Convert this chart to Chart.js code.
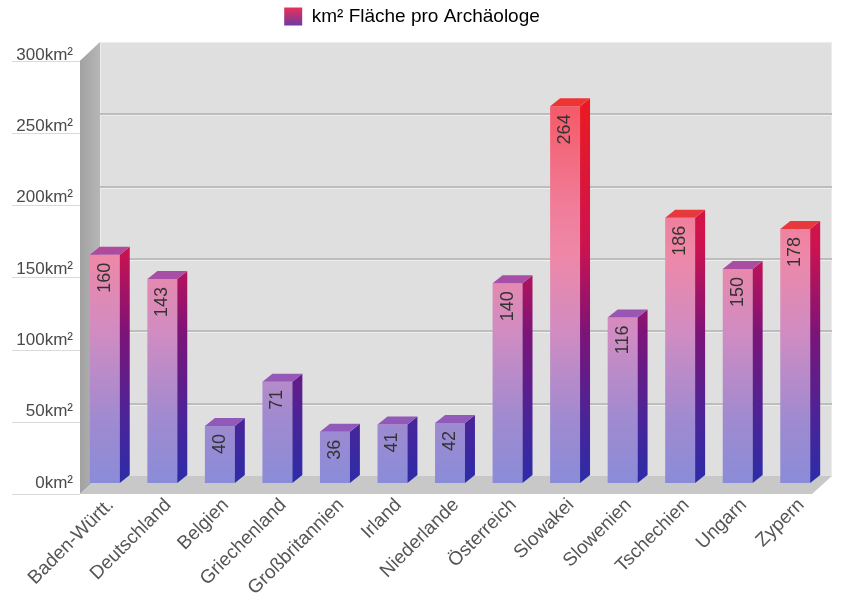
<!DOCTYPE html>
<html lang="de">
<head>
<meta charset="UTF-8">
<script src="https://cdn.jsdelivr.net/npm/chart.js"></script>
<style>
  html, body { margin: 0; padding: 0; background: #fff; }
</style>
<title>Fläche pro Archäologe</title>
</head>
<body>
<canvas id="chart" width="842" height="606"></canvas>
<script>
const laender = ['Baden-Württ.', 'Deutschland', 'Belgien', 'Griechenland', 'Großbritannien', 'Irland',
                 'Niederlande', 'Österreich', 'Slowakei', 'Slowenien', 'Tschechien', 'Ungarn', 'Zypern'];
const flaeche = [160, 143, 40, 71, 36, 41, 42, 140, 264, 116, 186, 150, 178];
const yTicks = [0, 50, 100, 150, 200, 250, 300];
const serienName = 'km² Fläche pro Archäologe';

Chart.defaults.font.family = 'Arial, "Liberation Sans", sans-serif';

// depth of the bars and of the walls
const BAR_DX = 10, BAR_DY = 8;
const WALL_DX = 20;

function backY(a, y) { return a.bottom - 7 - (a.bottom - y) * 1.014; }
function frontY(a, y) { return a.bottom + 11 - (a.bottom - y) * 1.012; }

function vGrad(ctx, a, stops) {
    const g = ctx.createLinearGradient(0, a.top, 0, a.bottom);
    stops.forEach(s => g.addColorStop(s[0], s[1]));
    return g;
}

function frontGradient(chart) {
    const a = chart.chartArea;
    if (!a) return '#b08ac8';
    return vGrad(chart.ctx, a, [
        [0, '#ff3b3b'], [0.12, '#f55a68'], [0.35, '#f07c98'], [0.47, '#ee88a8'],
        [0.65, '#d08cc2'], [0.85, '#a08ad0'], [1, '#8a8cd8']
    ]);
}

// the legend sits higher than the plot: leave a gap beneath it
const legendGap = {
    id: 'legendGap',
    afterInit(chart) {
        const legend = chart.legend;
        const fit = legend.fit;
        legend.fit = function () { fit.call(this); this.height += 19; };
    }
};

const box3d = {
    id: 'box3d',
    beforeDatasetsDraw(chart) {
        const ctx = chart.ctx, a = chart.chartArea, ys = chart.scales.y;
        const x0 = a.left + 4, x1 = x0 + WALL_DX, xr = a.right + 8, xf = xr - WALL_DX;
        const top = ys.getPixelForValue(yTicks[yTicks.length - 1]);
        const bTop = backY(a, top), bBot = backY(a, a.bottom);
        const fTop = frontY(a, top), fBot = frontY(a, a.bottom);
        ctx.save();

        // back wall
        ctx.fillStyle = '#dfdfdf';
        ctx.fillRect(x1, bTop, xr - x1, bBot - bTop);
        ctx.strokeStyle = '#ececec';
        ctx.lineWidth = 1;
        ctx.strokeRect(x1 + 0.5, bTop + 0.5, xr - x1 - 1, bBot - bTop);

        // left wall
        const sg = ctx.createLinearGradient(x0, 0, x1, 0);
        sg.addColorStop(0, '#a2a2a2');
        sg.addColorStop(1, '#b6b6b6');
        ctx.fillStyle = sg;
        ctx.beginPath();
        ctx.moveTo(x0, fTop); ctx.lineTo(x1, bTop); ctx.lineTo(x1, bBot); ctx.lineTo(x0, fBot);
        ctx.closePath(); ctx.fill();

        // floor
        ctx.fillStyle = '#c8c8c8';
        ctx.beginPath();
        ctx.moveTo(x0, fBot); ctx.lineTo(x1, bBot); ctx.lineTo(xr, bBot); ctx.lineTo(xf, fBot);
        ctx.closePath(); ctx.fill();

        // grid lines on the back wall, short ticks in front of the left wall
        yTicks.forEach(v => {
            const y = ys.getPixelForValue(v);
            if (v > 0 && v < yTicks[yTicks.length - 1]) {
                const by = Math.round(backY(a, y));
                ctx.fillStyle = '#bdbdbd';
                ctx.fillRect(x1, by - 1, xr - x1, 2);
                ctx.fillStyle = '#eeeeee';
                ctx.fillRect(x1, by + 1, xr - x1, 1);
            }
            const fy = Math.round(frontY(a, y)) + 0.5;
            ctx.strokeStyle = '#dadada';
            ctx.beginPath(); ctx.moveTo(12, fy); ctx.lineTo(x0, fy); ctx.stroke();
        });
        ctx.restore();
    },
    afterDatasetsDraw(chart) {
        const ctx = chart.ctx, a = chart.chartArea;
        const werte = chart.data.datasets[0].data;
        const side = vGrad(ctx, a, [
            [0, '#f01212'], [0.15, '#e81a28'], [0.45, '#cc1250'], [0.65, '#7c1478'],
            [0.85, '#4a2498'], [1, '#2c2ca8']
        ]);
        const topFace = vGrad(ctx, a, [
            [0, '#f03232'], [0.41, '#e63a3e'], [0.45, '#b04a9c'], [0.6, '#9a56b2'], [1, '#8c5cbe']
        ]);
        ctx.save();
        chart.getDatasetMeta(0).data.forEach((bar, i) => {
            const p = bar.getProps(['x', 'y', 'base', 'width'], true);
            const l = p.x - p.width / 2, r = p.x + p.width / 2;

            ctx.fillStyle = side;
            ctx.beginPath();
            ctx.moveTo(r, p.base); ctx.lineTo(r + BAR_DX, p.base - BAR_DY);
            ctx.lineTo(r + BAR_DX, p.y - BAR_DY); ctx.lineTo(r, p.y);
            ctx.closePath(); ctx.fill();

            ctx.fillStyle = topFace;
            ctx.beginPath();
            ctx.moveTo(l, p.y); ctx.lineTo(l + BAR_DX, p.y - BAR_DY);
            ctx.lineTo(r + BAR_DX, p.y - BAR_DY); ctx.lineTo(r, p.y);
            ctx.closePath(); ctx.fill();

            // value, written upwards inside the bar
            ctx.save();
            ctx.translate(p.x, p.y + 8);
            ctx.rotate(-Math.PI / 2);
            ctx.font = '18px Arial, "Liberation Sans", sans-serif';
            ctx.fillStyle = '#333';
            ctx.textAlign = 'right';
            ctx.textBaseline = 'middle';
            ctx.fillText(String(werte[i]), 0, 0);
            ctx.restore();
        });
        ctx.restore();
    }
};

new Chart(document.getElementById('chart'), {
    type: 'bar',
    data: {
        labels: laender,
        datasets: [{
            label: serienName,
            data: flaeche,
            backgroundColor: c => frontGradient(c.chart),
            borderWidth: 0,
            barPercentage: 0.52,
            categoryPercentage: 1
        }]
    },
    options: {
        responsive: false,
        animation: false,
        layout: { padding: { top: 0, right: 18, bottom: 0, left: 0 } },
        plugins: {
            tooltip: { enabled: false },
            legend: {
                labels: {
                    color: '#333',
                    font: { size: 19 },
                    boxWidth: 18,
                    boxHeight: 18,
                    padding: 7,
                    generateLabels(chart) {
                        const g = chart.ctx.createLinearGradient(0, 8, 0, 26);
                        g.addColorStop(0, '#e8305a');
                        g.addColorStop(1, '#6a3aa4');
                        return [{
                            text: serienName,
                            fillStyle: g,
                            strokeStyle: 'rgba(0,0,0,0)',
                            lineWidth: 0,
                            datasetIndex: 0
                        }];
                    }
                }
            }
        },
        scales: {
            x: {
                grid: { display: false },
                border: { display: false },
                ticks: {
                    autoSkip: false,
                    maxRotation: 45,
                    minRotation: 45,
                    padding: 3,
                    labelOffset: 6,
                    color: '#555',
                    font: { size: 19 }
                },
                afterFit(s) { s.height = 123; }
            },
            y: {
                min: 0,
                max: 300,
                grid: { display: false, drawTicks: false },
                border: { display: false },
                ticks: {
                    stepSize: 50,
                    padding: 3,
                    color: '#4a4a4a',
                    font: { size: 17 },
                    callback: v => v + 'km²'
                },
                afterFit(s) { s.width = 76; }
            }
        }
    },
    plugins: [legendGap, box3d]
});
</script>
</body>
</html>
